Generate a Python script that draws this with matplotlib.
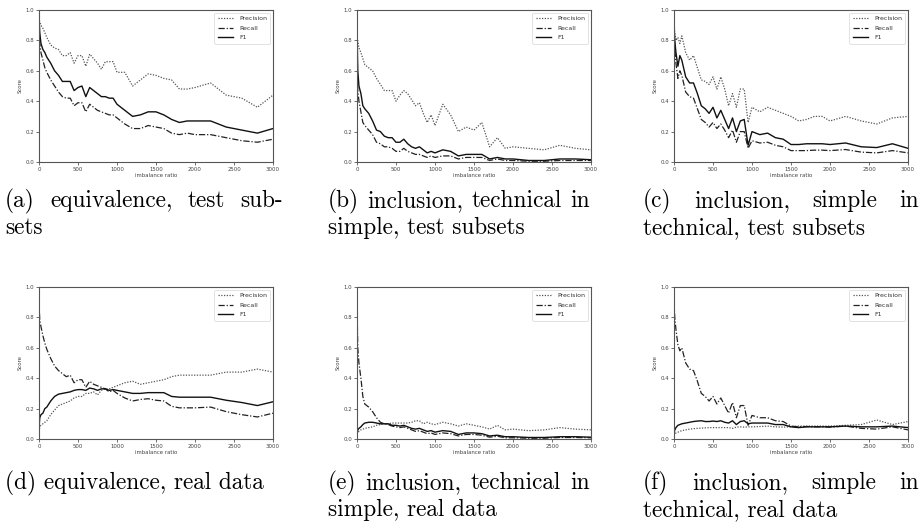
import matplotlib
matplotlib.use("Agg")
import matplotlib.pyplot as plt

x = [0, 10, 25, 50, 75, 100, 150, 200, 250, 300, 350, 400, 450, 500, 550, 600, 650, 700,
     750, 800, 850, 900, 950, 1000, 1100, 1200, 1300, 1400, 1500, 1600, 1700, 1800, 1900,
     2000, 2200, 2400, 2600, 2800, 3000]

prec_a = [0.95, 0.92, 0.9, 0.88, 0.85, 0.82, 0.77, 0.75, 0.74, 0.7, 0.7, 0.72, 0.65, 0.7, 0.7,
          0.63, 0.71, 0.68, 0.65, 0.61, 0.66, 0.66, 0.66, 0.59, 0.59, 0.5, 0.54, 0.58, 0.57,
          0.55, 0.54, 0.48, 0.48, 0.49, 0.52, 0.44, 0.42, 0.36, 0.44]
rec_a = [0.8, 0.78, 0.72, 0.67, 0.62, 0.59, 0.54, 0.5, 0.46, 0.43, 0.42, 0.42, 0.37, 0.39, 0.39,
         0.33, 0.38, 0.36, 0.34, 0.33, 0.32, 0.31, 0.31, 0.29, 0.25, 0.22, 0.22, 0.24, 0.23,
         0.22, 0.19, 0.18, 0.19, 0.18, 0.18, 0.16, 0.14, 0.13, 0.15]
f1_a = [0.96, 0.85, 0.78, 0.74, 0.72, 0.69, 0.65, 0.6, 0.57, 0.53, 0.53, 0.53, 0.47, 0.49, 0.5,
        0.43, 0.49, 0.47, 0.45, 0.43, 0.43, 0.42, 0.42, 0.38, 0.34, 0.3, 0.31, 0.33, 0.33,
        0.31, 0.28, 0.26, 0.27, 0.27, 0.27, 0.23, 0.21, 0.19, 0.22]

prec_b = [0.82, 0.8, 0.75, 0.72, 0.68, 0.64, 0.62, 0.6, 0.55, 0.51, 0.47, 0.47, 0.47, 0.4, 0.44,
          0.47, 0.45, 0.41, 0.37, 0.39, 0.32, 0.26, 0.31, 0.24, 0.38, 0.31, 0.2, 0.23, 0.21,
          0.26, 0.1, 0.16, 0.09, 0.1, 0.09, 0.08, 0.11, 0.09, 0.08]
rec_b = [0.8, 0.47, 0.4, 0.33, 0.26, 0.24, 0.21, 0.18, 0.13, 0.12, 0.1, 0.1, 0.09, 0.07, 0.07,
         0.09, 0.07, 0.06, 0.05, 0.05, 0.04, 0.03, 0.04, 0.03, 0.04, 0.04, 0.02, 0.03, 0.03,
         0.03, 0.01, 0.02, 0.01, 0.01, 0.005, 0.005, 0.01, 0.01, 0.01]
f1_b = [0.88, 0.6, 0.5, 0.45, 0.37, 0.35, 0.32, 0.27, 0.21, 0.2, 0.17, 0.16, 0.16, 0.13, 0.13,
        0.15, 0.12, 0.1, 0.09, 0.1, 0.08, 0.06, 0.07, 0.06, 0.08, 0.07, 0.04, 0.05, 0.05,
        0.05, 0.02, 0.03, 0.02, 0.02, 0.01, 0.01, 0.02, 0.02, 0.015]

prec_c = [0.92, 0.85, 0.8, 0.82, 0.78, 0.83, 0.72, 0.67, 0.7, 0.62, 0.54, 0.53, 0.51, 0.56, 0.48,
          0.56, 0.48, 0.37, 0.45, 0.36, 0.48, 0.48, 0.26, 0.36, 0.33, 0.36, 0.34, 0.32, 0.3,
          0.27, 0.28, 0.3, 0.3, 0.27, 0.3, 0.27, 0.25, 0.29, 0.3]
rec_c = [0.88, 0.75, 0.65, 0.55, 0.6, 0.57, 0.46, 0.43, 0.42, 0.35, 0.28, 0.26, 0.23, 0.26, 0.22,
         0.25, 0.21, 0.16, 0.21, 0.13, 0.2, 0.2, 0.09, 0.14, 0.125, 0.13, 0.11, 0.1, 0.075,
         0.075, 0.075, 0.078, 0.078, 0.075, 0.082, 0.065, 0.06, 0.075, 0.06]
f1_c = [0.9, 0.8, 0.72, 0.63, 0.7, 0.67, 0.56, 0.52, 0.52, 0.45, 0.37, 0.35, 0.32, 0.36, 0.29,
        0.34, 0.28, 0.22, 0.29, 0.2, 0.27, 0.28, 0.11, 0.2, 0.18, 0.19, 0.16, 0.15, 0.115,
        0.115, 0.12, 0.12, 0.12, 0.115, 0.125, 0.1, 0.095, 0.12, 0.09]

prec_d = [0.05, 0.08, 0.09, 0.1, 0.11, 0.12, 0.16, 0.19, 0.22, 0.23, 0.24, 0.25, 0.27, 0.28, 0.28,
          0.3, 0.3, 0.31, 0.29, 0.32, 0.33, 0.33, 0.34, 0.35, 0.37, 0.38, 0.36, 0.37, 0.38,
          0.39, 0.41, 0.42, 0.42, 0.42, 0.42, 0.44, 0.44, 0.46, 0.44]
rec_d = [0.9, 0.78, 0.74, 0.68, 0.63, 0.59, 0.53, 0.48, 0.45, 0.43, 0.41, 0.42, 0.37, 0.39, 0.39,
         0.34, 0.38, 0.36, 0.35, 0.34, 0.33, 0.31, 0.32, 0.3, 0.27, 0.25, 0.26, 0.265, 0.255,
         0.25, 0.215, 0.205, 0.205, 0.205, 0.21, 0.18, 0.16, 0.145, 0.17]
f1_d = [0.07, 0.14, 0.16, 0.17, 0.2, 0.21, 0.25, 0.28, 0.295, 0.3, 0.305, 0.31, 0.32, 0.325, 0.325,
        0.32, 0.335, 0.33, 0.32, 0.33, 0.33, 0.32, 0.325, 0.32, 0.31, 0.3, 0.3, 0.305, 0.305,
        0.305, 0.28, 0.275, 0.275, 0.275, 0.275, 0.255, 0.24, 0.22, 0.245]

prec_e = [0.03, 0.04, 0.05, 0.06, 0.065, 0.07, 0.075, 0.08, 0.09, 0.095, 0.1, 0.1, 0.105, 0.105,
          0.105, 0.105, 0.105, 0.11, 0.12, 0.12, 0.1, 0.11, 0.1, 0.095, 0.11, 0.1, 0.085, 0.1,
          0.09, 0.08, 0.065, 0.09, 0.06, 0.065, 0.055, 0.06, 0.075, 0.065, 0.06]
rec_e = [0.9, 0.6, 0.5, 0.4, 0.28, 0.23, 0.21, 0.18, 0.14, 0.11, 0.1, 0.095, 0.085, 0.08, 0.075,
         0.08, 0.07, 0.06, 0.05, 0.055, 0.045, 0.035, 0.04, 0.03, 0.04, 0.035, 0.02, 0.03, 0.03,
         0.025, 0.012, 0.018, 0.008, 0.008, 0.005, 0.005, 0.01, 0.01, 0.008]
f1_e = [0.03, 0.06, 0.07, 0.08, 0.095, 0.105, 0.11, 0.11, 0.105, 0.1, 0.1, 0.1, 0.09, 0.09, 0.085,
        0.09, 0.08, 0.07, 0.065, 0.07, 0.06, 0.05, 0.055, 0.045, 0.055, 0.05, 0.03, 0.04, 0.04,
        0.035, 0.02, 0.025, 0.015, 0.015, 0.01, 0.01, 0.015, 0.015, 0.012]

prec_f = [0.02, 0.03, 0.04, 0.045, 0.05, 0.055, 0.06, 0.065, 0.068, 0.07, 0.072, 0.073, 0.075,
          0.075, 0.075, 0.075, 0.075, 0.075, 0.07, 0.078, 0.08, 0.078, 0.08, 0.08, 0.082, 0.085,
          0.08, 0.078, 0.08, 0.085, 0.085, 0.085, 0.085, 0.085, 0.09, 0.095, 0.125, 0.095, 0.115]
rec_f = [0.9, 0.8, 0.72, 0.62, 0.58, 0.6, 0.5, 0.46, 0.45, 0.38, 0.3, 0.28, 0.25, 0.28, 0.23,
         0.27, 0.22, 0.17, 0.24, 0.14, 0.22, 0.22, 0.09, 0.155, 0.14, 0.14, 0.12, 0.115, 0.085,
         0.08, 0.082, 0.08, 0.08, 0.078, 0.085, 0.07, 0.065, 0.08, 0.06]
f1_f = [0.03, 0.06, 0.075, 0.09, 0.095, 0.1, 0.105, 0.11, 0.115, 0.118, 0.12, 0.115, 0.115, 0.118,
        0.115, 0.12, 0.11, 0.105, 0.12, 0.095, 0.115, 0.12, 0.1, 0.105, 0.105, 0.105, 0.095,
        0.095, 0.08, 0.075, 0.08, 0.08, 0.08, 0.08, 0.085, 0.08, 0.08, 0.085, 0.075]

captions = [
    ["(a) equivalence, test sub-", "sets"],
    ["(b) inclusion, technical in", "simple, test subsets"],
    ["(c) inclusion, simple in", "technical, test subsets"],
    ["(d) equivalence, real data"],
    ["(e) inclusion, technical in", "simple, real data"],
    ["(f) inclusion, simple in", "technical, real data"],
]
series = [(prec_a, rec_a, f1_a), (prec_b, rec_b, f1_b), (prec_c, rec_c, f1_c),
          (prec_d, rec_d, f1_d), (prec_e, rec_e, f1_e), (prec_f, rec_f, f1_f)]
x_ticks = [0, 500, 1000, 1500, 2000, 2500, 3000]
y_ticks = [0.0, 0.2, 0.4, 0.6, 0.8, 1.0]

W, H = 920, 529
fig = plt.figure(figsize=(W / 100, H / 100), dpi=100)

ax_left = [39, 357, 674]
ax_w = 234
row_top = [10, 287]
ax_h = 152
cap_left = [5, 328, 643]
cap_right = [283, 590, 919]
cap_y = [[201, 228], [483, 510]]

spine_c = "#555555"
text_c = "#444444"
cap_font = dict(family="cmr10", size=16.8, color="black")

renderer = fig.canvas.get_renderer()

def justify(words, xl, xr, yp):
    texts = [fig.text(0, 0, w, ha="left", va="center", **cap_font) for w in words]
    widths = [t.get_window_extent(renderer).width for t in texts]
    gap = max((xr - xl - sum(widths)) / (len(words) - 1), 3.0)
    cur = xl
    for t, wd in zip(texts, widths):
        t.set_position((cur / W, 1 - yp / H))
        cur += wd + gap

for i in range(6):
    r, c = divmod(i, 3)
    ax = fig.add_axes([ax_left[c] / W, 1 - (row_top[r] + ax_h) / H, ax_w / W, ax_h / H])
    p, rc, f = series[i]
    ax.plot(x, p, linestyle=(0, (1, 1.2)), color="#555555", lw=0.9, label="Precision")
    ax.plot(x, rc, linestyle=(0, (5, 1.5, 1, 1.5)), color="#222222", lw=0.9, label="Recall")
    ax.plot(x, f, linestyle="-", color="#111111", lw=1.0, label="F1")
    ax.set_xlim(0, 3000)
    ax.set_ylim(0, 1.0)
    ax.set_xticks(x_ticks)
    ax.set_yticks(y_ticks)
    ax.set_yticklabels([f"{v:.1f}" for v in y_ticks])
    ax.tick_params(labelsize=3.9, colors=spine_c, labelcolor=text_c, length=2, width=0.6, pad=1.5)
    for s in ax.spines.values():
        s.set_color(spine_c)
        s.set_linewidth(0.8)
    ax.set_xlabel("imbalance ratio", fontsize=3.9, color=text_c, labelpad=1)
    ax.set_ylabel("Score", fontsize=3.9, color=text_c, labelpad=2)
    leg = ax.legend(loc="upper right", fontsize=4.5, handlelength=2.4, frameon=True,
                    borderpad=0.55, labelspacing=0.65, borderaxespad=0.4, handletextpad=1.0)
    leg.get_frame().set_edgecolor("#cccccc")
    leg.get_frame().set_linewidth(0.5)
    for t in leg.get_texts():
        t.set_color("#333333")

    cap = captions[i]
    if len(cap) == 1:
        fig.text(cap_left[c] / W, 1 - cap_y[r][0] / H, cap[0], ha="left", va="center", **cap_font)
    else:
        justify(cap[0].split(), cap_left[c], cap_right[c], cap_y[r][0])
        fig.text(cap_left[c] / W, 1 - cap_y[r][1] / H, cap[1], ha="left", va="center", **cap_font)

fig.savefig("out.png", dpi=100)
